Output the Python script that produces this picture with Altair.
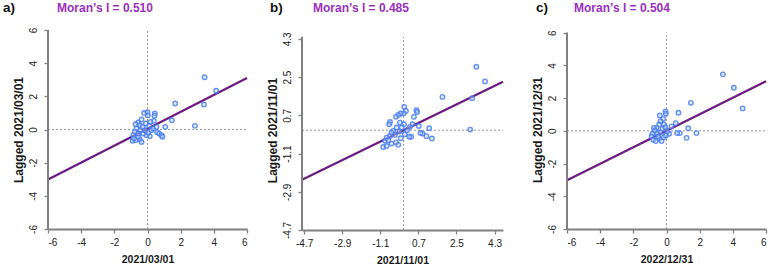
import altair as alt
import pandas as pd

FONT = "Liberation Sans"

# ---------------- data ----------------
a_x = [3.44, 4.14, 1.67, 3.40, 2.86, 1.47, 1.07, -0.20, 0.00, 0.02, 0.44, 0.42, 0.38, -0.36,
       -0.56, -0.72, -0.46, -0.66, -0.76, -0.86, -0.90, -0.70, -0.46, -0.36, -0.56, -0.26,
       -0.16, 0.10, 0.24, 0.34, 0.54, 0.58, 0.70, 0.84, 0.90, 0.14, -0.06, -0.42, -0.30,
       0.18, -0.10, -0.82, -0.56, 0.04]
a_y = [3.15, 2.34, 1.57, 1.51, 0.22, 0.56, 0.16, 1.00, 1.04, 0.85, 0.97, 0.83, 0.52, 0.60,
       0.42, 0.32, 0.26, 0.06, -0.14, -0.34, -0.68, -0.64, -0.60, -0.75, -0.44, -0.24,
       -0.04, 0.24, -0.04, 0.06, 0.16, -0.16, -0.24, -0.34, -0.44, -0.40, -0.34, -0.04,
       0.16, 0.46, 0.36, -0.54, -0.24, -0.20]

b_x = [3.44, 3.85, 1.84, 3.24, 3.15, 1.21, 1.34, 1.08, 0.90, 0.80, 0.72, 0.61, 0.49, 0.42,
       0.36, 0.27, 0.11, 0.03, 0.00, -0.14, -0.25, -0.36, -0.17, -0.64, -0.68, 0.02, -0.09,
       -0.33, -0.49, -0.20, -0.41, -0.64, -0.80, -0.88, -0.96, -0.80, -0.57, -0.36, -0.25,
       -0.72, -0.14, 0.06, 0.17, 0.30, -0.57, 0.64]
b_y = [2.99, 2.30, 1.57, 1.51, 0.03, 0.09, -0.39, -0.28, -0.16, -0.13, 0.20, 0.94, 0.63, 0.28,
       -0.31, -0.31, 0.91, 1.10, 0.79, 0.79, 0.72, 0.63, 0.36, 0.39, 0.28, 0.28, 0.13,
       0.13, -0.03, -0.06, -0.22, -0.27, -0.35, -0.50, -0.79, -0.74, -0.63, -0.57, -0.69,
       -0.47, -0.38, -0.19, 0.00, 0.16, -0.11, 0.86]

c_x = [3.40, 4.06, 4.59, 1.47, 0.72, -0.06, -0.04, -0.40, 1.31, 1.21, 1.81, 0.80, 0.64, 0.56,
       0.30, 0.16, -0.20, -0.36, -0.44, -0.16, -0.60, -0.76, -0.70, -0.85, -0.90, -0.80,
       -0.64, -0.44, -0.30, -0.16, -0.04, 0.04, -0.36, -0.56, -0.24, -0.08, -0.50]
c_y = [3.45, 2.63, 1.37, 1.71, 1.10, 1.18, 1.04, 0.94, 0.16, -0.43, -0.14, -0.14, -0.14, 0.47,
       0.27, -0.18, 0.73, 0.59, 0.39, 0.39, 0.18, 0.18, 0.02, -0.18, -0.35, -0.55, -0.63,
       -0.49, -0.63, -0.39, -0.29, -0.02, -0.08, -0.18, 0.12, 0.22, -0.35]

letters = ["a)", "b)", "c)"]
morans = [0.510, 0.485, 0.504]
intercepts = [0.05, 0.0, 0.0]
x_titles = ["2021/03/01", "2021/11/01", "2022/12/31"]
y_titles = ["Lagged 2021/03/01", "Lagged 2021/11/01", "Lagged 2021/12/31"]
ticks_ac = [-6, -4, -2, 0, 2, 4, 6]
ticks_b = [-4.7, -2.9, -1.1, 0.7, 2.5, 4.3]

# ---------------- layout (not data) ----------------
panels = [
    dict(xs=a_x, ys=a_y, xdom=[-6, 6], ydom=[-6, 6], ytop=6, xt=ticks_ac, yt=ticks_ac,
         w=199, h=199, title_dx=9, letter_dx=-45),
    dict(xs=b_x, ys=b_y, xdom=[-4.8, 4.7], ydom=[-4.7, 4.4], ytop=4.72, xt=ticks_b, yt=ticks_b,
         w=201, h=200, title_dx=11, letter_dx=-32),
    dict(xs=c_x, ys=c_y, xdom=[-6, 6], ydom=[-6, 6], ytop=6.16, xt=ticks_ac, yt=ticks_ac,
         w=199, h=199, title_dx=7, letter_dx=-31),
]

TEXT_Y = -18
AX = "#808080"
LBL = "'' + datum.value"


def make_panel(i):
    p = panels[i]
    pts = pd.DataFrame({"x": p["xs"], "y": p["ys"]})
    x0, x1 = p["xdom"]
    y0, y1 = p["ydom"]
    line = pd.DataFrame({"x": [x0, x1],
                         "y": [intercepts[i] + morans[i] * x0, intercepts[i] + morans[i] * x1]})
    xs = alt.Scale(domain=p["xdom"], nice=False, zero=False)
    ys = alt.Scale(domain=[y0, p["ytop"]], nice=False, zero=False)
    xax = alt.Axis(values=p["xt"], title=x_titles[i], labelExpr=LBL)
    yax = alt.Axis(values=p["yt"], title=y_titles[i], labelExpr=LBL, domain=False)

    X = lambda f="x": alt.X(f"{f}:Q", scale=xs, axis=xax)
    Y = lambda f="y": alt.Y(f"{f}:Q", scale=ys, axis=yax)

    # left axis line, from the bottom of the axis to its top value
    yline = alt.Chart(pd.DataFrame({"x": [x0], "y": [y0], "y2": [y1]})).mark_rule(
        color=AX, strokeWidth=2).encode(x=X(), y=Y(), y2="y2:Q")
    vrule = alt.Chart(pd.DataFrame({"x": [0], "y": [y0], "y2": [y1]})).mark_rule(
        color="#9a9a9a", strokeDash=[2, 2], strokeWidth=1).encode(x=X(), y=Y(), y2="y2:Q")
    hrule = alt.Chart(pd.DataFrame({"y": [0], "x": [x0], "x2": [x1]})).mark_rule(
        color="#9a9a9a", strokeDash=[2, 2], strokeWidth=1).encode(y=Y(), x=X(), x2="x2:Q")
    dots = alt.Chart(pts).mark_point(shape="circle", filled=False, size=20, strokeWidth=1.4,
                                     color="#4a7ff0", fill="#c4d6fb", fillOpacity=0.55,
                                     opacity=0.85).encode(x=X(), y=Y())
    reg = alt.Chart(line).mark_line(color="#6c1a80", strokeWidth=2.2).encode(x=X(), y=Y())
    title = alt.Chart(pd.DataFrame({"t": [f"Moran\u2019s I = {morans[i]:.3f}"]})).mark_text(
        align="left", baseline="alphabetic", font=FONT, fontSize=12, fontWeight="bold",
        color="#9a2fc0").encode(x=alt.value(p["title_dx"]), y=alt.value(TEXT_Y), text="t:N")
    letter = alt.Chart(pd.DataFrame({"t": [letters[i]]})).mark_text(
        align="left", baseline="alphabetic", font=FONT, fontSize=13.5, fontWeight="bold",
        color="#111111").encode(x=alt.value(p["letter_dx"]), y=alt.value(TEXT_Y), text="t:N")
    return alt.layer(vrule, hrule, reg, dots, yline, title, letter).properties(
        width=p["w"], height=p["h"])


chart = alt.hconcat(
    make_panel(0),
    alt.hconcat(make_panel(1), make_panel(2), spacing=23),
    spacing=14,
).properties(
    padding={"left": 3, "top": 1, "right": 5, "bottom": 0}
).configure_view(stroke=None).configure_axis(
    grid=False, domain=True, ticks=True,
    domainColor=AX, domainWidth=2,
    tickColor=AX, tickWidth=1.3, tickSize=4,
    labelFont=FONT, labelFontSize=10, labelColor="#222222",
    titleFont=FONT, titleColor="#1a1a1a", titleFontWeight="bold",
).configure_axisX(
    labelPadding=4, titlePadding=7, titleFontSize=10.5,
).configure_axisY(
    labelAngle=-90, labelPadding=6, titlePadding=3, titleFontSize=12,
)

chart.save("out.html", embed_options={"renderer": "svg", "actions": False})
